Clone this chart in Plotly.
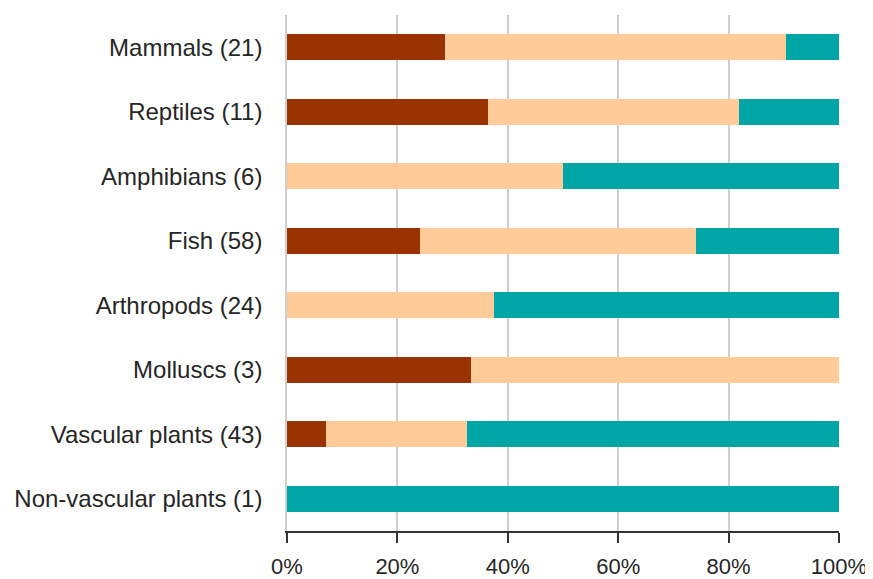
import plotly.graph_objects as go

categories = ["Mammals (21)", "Reptiles (11)", "Amphibians (6)", "Fish (58)",
              "Arthropods (24)", "Molluscs (3)", "Vascular plants (43)",
              "Non-vascular plants (1)"]
series1 = [6, 4, 0, 14, 0, 1, 3, 0]
series2 = [13, 5, 3, 29, 9, 2, 11, 0]
series3 = [2, 2, 3, 15, 15, 0, 29, 1]
tick_vals = [0, 20, 40, 60, 80, 100]
tick_text = ["0%", "20%", "40%", "60%", "80%", "100%"]

colors = ["#993300", "#FFCC99", "#00A6A6"]
names = ["Series 1", "Series 2", "Series 3"]

fig = go.Figure()
for name, vals, c in zip(names, [series1, series2, series3], colors):
    fig.add_trace(go.Bar(y=categories, x=vals, name=name, orientation="h",
                         marker=dict(color=c, line=dict(width=0))))

font = dict(family="Liberation Sans, Arial, sans-serif", size=24, color="#262626")
# page body has an 8px default margin, so the figure is sized to fit the window
fig.update_layout(
    barmode="stack", barnorm="percent", bargap=0.6,
    showlegend=False,
    width=865, height=571,
    margin=dict(l=279, r=34, t=7, b=48, autoexpand=False),
    paper_bgcolor="white", plot_bgcolor="white",
    font=font,
    xaxis=dict(range=[0, 100], tickvals=tick_vals, ticktext=tick_text,
               tickfont=dict(size=22),
               showgrid=True, gridcolor="#CFCFCF", gridwidth=1.5,
               zeroline=False, showline=True, linecolor="#333333", linewidth=1.5,
               ticks="outside", ticklen=10, tickwidth=1.5, tickcolor="#333333",
               ticklabelstandoff=5, automargin=False),
    yaxis=dict(autorange="reversed", showline=True, linecolor="#CFCFCF", linewidth=1.5,
               showgrid=False, ticks="", ticklabelstandoff=18, automargin=False),
)
fig.write_html("out.html")
